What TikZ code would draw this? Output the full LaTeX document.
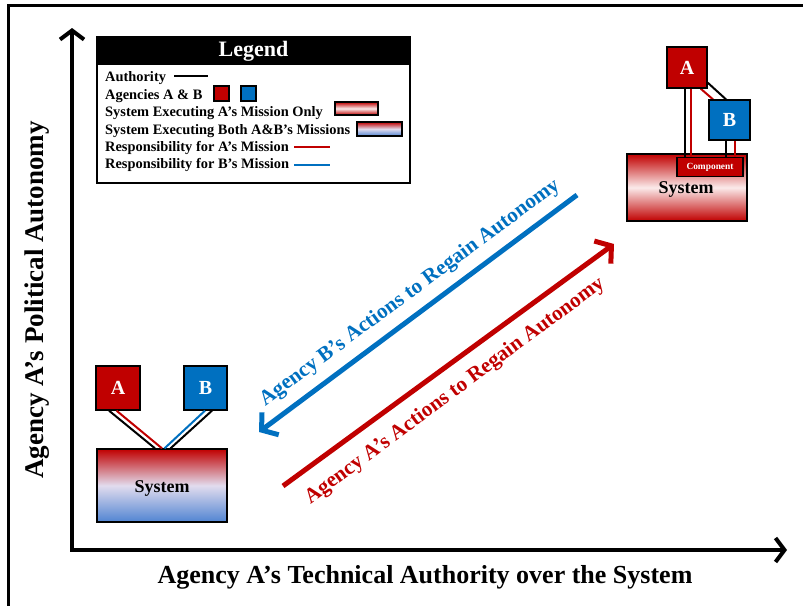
\documentclass[tikz,border=0pt]{standalone}
\usepackage{fontspec}
\setmainfont{Liberation Serif}
\usetikzlibrary{arrows.meta}
\definecolor{ared}{HTML}{C00000}
\definecolor{bblue}{HTML}{0070C0}
\definecolor{lblue}{HTML}{5084D2}
\definecolor{paleA}{HTML}{FBEAEA}
\definecolor{paleAB}{HTML}{E2DCEE}
\begin{document}
\begin{tikzpicture}[x=1pt,y=-1pt,
  agency/.style={draw=black, line width=1.3pt, text=white, inner sep=0pt,
    font=\bfseries\fontsize{20}{20}\selectfont},
  agA/.style={agency, fill=ared},
  agB/.style={agency, fill=bblue},
  sysA/.style={draw=black, line width=1.3pt, top color=ared, bottom color=ared, middle color=paleA},
  sysAB/.style={draw=black, line width=1.3pt, top color=ared, bottom color=lblue, middle color=paleAB},
  authline/.style={draw=black, line width=2pt},
  respA/.style={draw=ared, line width=2pt},
  respB/.style={draw=bblue, line width=2pt},
  axisline/.style={line width=4pt, {Straight Barb[length=9pt,width=24pt]}-{Straight Barb[length=9pt,width=24pt]}},
  legtext/.style={anchor=west, inner sep=0pt, font=\bfseries\fontsize{14.4}{15}\selectfont},
  bigarrow/.style={line width=5pt, -{Straight Barb[length=11pt,width=28pt]}},
  biglabel/.style={rotate=36.5, inner sep=0pt, font=\bfseries\fontsize{21.2}{22}\selectfont},
  systext/.style={font=\bfseries\fontsize{18}{18}\selectfont},
]
\useasboundingbox (0,0) rectangle (803,605);
% frame
\draw[line width=3pt] (8,606) -- (8,5) -- (804,5);

% axes
\coordinate (ytop) at (72,28);
\coordinate (orig) at (72,550);
\coordinate (xend) at (787,550);
\draw[axisline, line join=miter] (ytop) -- (orig) -- (xend);
\node[rotate=90, font=\bfseries\fontsize{27}{27}\selectfont] (ylab) at (37,300) {Agency A’s Political Autonomy};
\node[font=\bfseries\fontsize{26}{26}\selectfont] (xlab) at (425,577) {Agency A’s Technical Authority over the System};

% legend
\node[draw=black, line width=2.5pt, fill=white, minimum width=313, minimum height=146, inner sep=0pt] (legend) at (253.5,110) {};
\fill[black] (legend.north west) rectangle ([yshift=-29pt]legend.north east);
\node[text=white, font=\bfseries\fontsize{22}{22}\selectfont] (legtitle) at (253.5,51) {Legend};
\node[legtext] (l1) at (105,78) {Authority};
\node[legtext] (l2) at (105,96) {Agencies A \& B};
\node[legtext] (l3) at (105,113) {System Executing A’s Mission Only};
\node[legtext] (l4) at (105,131) {System Executing Both A\&B’s Missions};
\node[legtext] (l5) at (105,148) {Responsibility for A’s Mission};
\node[legtext] (l6) at (105,165) {Responsibility for B’s Mission};
\coordinate (la1) at (174,76); \coordinate (la2) at (208,76);
\draw[authline] (la1) -- (la2);
\node[agA, minimum width=15, minimum height=15] (lA) at (221.5,93.5) {};
\node[agB, minimum width=15, minimum height=15] (lB) at (248.5,93.5) {};
\node[sysA, minimum width=43, minimum height=13, line width=1.6pt] (lsA) at (356.5,108.5) {};
\node[sysAB, minimum width=45, minimum height=14, line width=1.6pt] (lsAB) at (379.5,129) {};
\coordinate (lr1) at (294,147); \coordinate (lr2) at (330,147);
\draw[respA, line width=2.5pt] (lr1) -- (lr2);
\coordinate (lb1) at (294,165); \coordinate (lb2) at (330,165);
\draw[respB, line width=2.5pt] (lb1) -- (lb2);

% bottom-left configuration
\node[sysAB, minimum width=130, minimum height=73, inner sep=0pt] (S1) at (162,485.5) {};
\node[systext] (S1t) at (162,488) {System};
\node[agA, minimum width=44, minimum height=44] (A1) at (118,388) {A};
\node[agB, minimum width=43, minimum height=44] (B1) at (205.5,388) {B};
\draw[authline] ([xshift=-9pt]A1.south) -- ([xshift=-7pt]S1.north);
\draw[respA] ([xshift=-1.5pt]A1.south) -- ([xshift=0pt]S1.north);
\draw[respB] ([xshift=-0.5pt]B1.south) -- ([xshift=2.5pt]S1.north);
\draw[authline] ([xshift=6.5pt]B1.south) -- ([xshift=8.5pt]S1.north);

% top-right configuration
\node[sysA, minimum width=120, minimum height=67, inner sep=0pt] (S2) at (687,187.5) {};
\node[systext] (S2t) at (686,189) {System};
\node[draw=black, line width=1.3pt, fill=ared, text=white, minimum width=66, minimum height=19, inner sep=0pt,
  font=\bfseries\fontsize{9.4}{9.4}\selectfont] (C2) at (710,167) {Component};
\node[agA, minimum width=40, minimum height=41] (A2) at (687,67.5) {A};
\node[agB, minimum width=41, minimum height=40] (B2) at (729.5,120) {B};
\draw[authline] ([xshift=-2pt]A2.south) -- ([xshift=-25pt]C2.north);
\draw[respA] ([xshift=4pt]A2.south) -- ([xshift=-19pt]C2.north);
\draw[authline] ([yshift=6pt]A2.south east) -- ([xshift=-3.5pt]B2.north);
\draw[respA] ([xshift=-7pt]A2.south east) -- ([xshift=-16.5pt]B2.north);
\draw[authline] ([xshift=-3.5pt]B2.south) -- ([xshift=16pt]C2.north);
\draw[respA] ([xshift=5.5pt]B2.south) -- ([xshift=25pt]C2.north);
\node[agA, minimum width=40, minimum height=41] at (687,67.5) {A};
\node[agB, minimum width=41, minimum height=40] at (729.5,120) {B};

% big arrows
\coordinate (bs) at (577,195);
\coordinate (be) at (259,432);
\draw[bigarrow, draw=bblue] (bs) -- (be);
\node[biglabel, text=bblue] (blab) at (410,293) {Agency B’s Actions to Regain Autonomy};
\coordinate (rs) at (283,486);
\coordinate (re) at (614,244);
\draw[bigarrow, draw=ared] (rs) -- (re);
\node[biglabel, text=ared] (rlab) at (455,391) {Agency A’s Actions to Regain Autonomy};
\end{tikzpicture}
\end{document}
